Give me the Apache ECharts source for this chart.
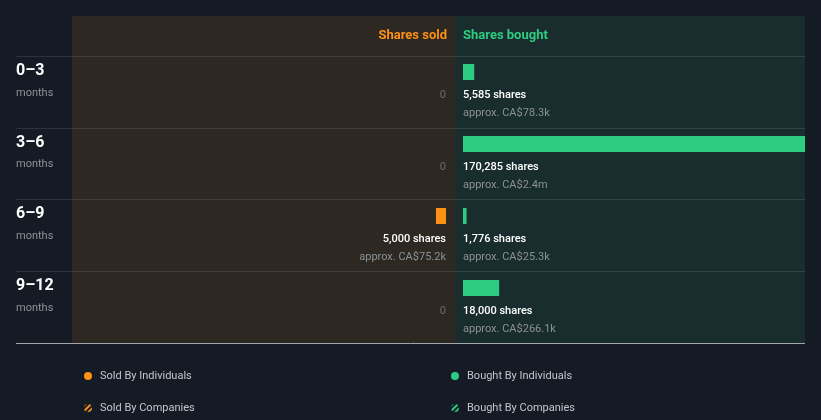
<!DOCTYPE html>
<html>
<head>
<meta charset="utf-8">
<script src="https://cdn.jsdelivr.net/npm/echarts@6/dist/echarts.min.js"></script>
<style>
  html, body { margin: 0; padding: 0; background: #151b25; }
  #chart { width: 821px; height: 420px; }
</style>
</head>
<body>
<div id="chart"></div>
<script>
// insider trading by period
const periods = ['0–3', '3–6', '6–9', '9–12'];
const soldIndividuals = [0, 0, 5000, 0];
const soldCompanies = [0, 0, 0, 0];
const soldValue = [0, 0, 75200, 0];            // CA$
const boughtIndividuals = [5585, 170285, 1776, 18000];
const boughtCompanies = [0, 0, 0, 0];
const boughtValue = [78300, 2400000, 25300, 266100]; // CA$

const ORANGE = '#fd9116';
const GREEN = '#2ecc80';
const BG = '#151b25';

const chart = echarts.init(document.getElementById('chart'));

function fmtMoney(v) {
  if (v >= 1e6) return 'CA$' + (v / 1e6).toFixed(1) + 'm';
  return 'CA$' + (v / 1e3).toFixed(1) + 'k';
}

function labelText(shares, values) {
  return function (p) {
    const n = shares[p.dataIndex];
    if (!n) return '{z|0}';
    return '{s|' + n.toLocaleString('en-US') + ' shares}\n{v|approx. ' + fmtMoney(values[p.dataIndex]) + '}';
  };
}

const rich = {
  s: { color: '#ffffff', fontSize: 11, fontWeight: 500, lineHeight: 18, fontFamily: 'Roboto' },
  v: { color: '#8a9196', fontSize: 11, lineHeight: 18, fontFamily: 'Roboto' },
  z: { color: '#6b6b6b', fontSize: 11, lineHeight: 18, fontFamily: 'Roboto' }
};

// both sides share one scale: bought side is 342px wide, sold side 374px
const maxShares = Math.max(...boughtIndividuals, ...soldIndividuals);

const hiddenCat = (grid) => ({
  type: 'category', gridIndex: grid, data: periods, inverse: true, show: false
});

// row separators, last one is the brighter bottom rule
const rowLine = 'rgba(255,255,255,0.1)';
const rowLineColors = periods.map(() => rowLine).concat('#a3a7ab');

const option = {
  backgroundColor: BG,
  textStyle: { fontFamily: 'Roboto' },
  animation: false,
  title: [
    {
      text: 'Shares sold', right: 374, top: 28, padding: 0,
      textStyle: { color: ORANGE, fontSize: 13, fontWeight: 'bold', lineHeight: 16 }
    },
    {
      text: 'Shares bought', left: 463, top: 28, padding: 0,
      textStyle: { color: GREEN, fontSize: 13, fontWeight: 'bold', lineHeight: 16 }
    }
  ],
  graphic: {
    elements: [
      { type: 'rect', z: -10, shape: { x: 72, y: 16, width: 383, height: 327 }, style: { fill: '#2d2822' } },
      { type: 'rect', z: -10, shape: { x: 455, y: 16, width: 350, height: 327 }, style: { fill: '#1a2d2e' } }
    ]
  },
  legend: [
    {
      data: ['Sold By Individuals', 'Sold By Companies'],
      orient: 'vertical', left: 84, top: 369, padding: 0,
      itemWidth: 8, itemHeight: 8, itemGap: 18, icon: 'circle',
      textStyle: { color: '#c2c6cc', fontSize: 11, lineHeight: 14, padding: [0, 0, 0, 3] }
    },
    {
      data: ['Bought By Individuals', 'Bought By Companies'],
      orient: 'vertical', left: 451, top: 369, padding: 0,
      itemWidth: 8, itemHeight: 8, itemGap: 18, icon: 'circle',
      textStyle: { color: '#c2c6cc', fontSize: 11, lineHeight: 14, padding: [0, 0, 0, 3] }
    }
  ],
  grid: [
    { left: 72, width: 374, top: 36, height: 288 },
    { left: 463, width: 342, top: 36, height: 288 },
    { left: 16, width: 789, top: 56, height: 287 }
  ],
  xAxis: [
    { type: 'value', gridIndex: 0, inverse: true, min: 0, max: maxShares * 374 / 342, show: false },
    { type: 'value', gridIndex: 1, min: 0, max: maxShares, show: false },
    { type: 'value', gridIndex: 2, min: 0, max: 1, show: false }
  ],
  yAxis: [
    hiddenCat(0),
    hiddenCat(1),
    {
      type: 'category', gridIndex: 2, data: periods, inverse: true,
      axisLine: { show: false }, axisTick: { show: false },
      splitLine: { show: true, lineStyle: { color: rowLineColors, width: 1 } },
      axisLabel: {
        interval: 0, align: 'left', margin: 0,
        padding: [0, 0, 20, 0],
        formatter: (v) => '{p|' + v + '}\n{m|months}',
        rich: {
          p: { color: '#ffffff', fontSize: 16, fontWeight: 'bold', lineHeight: 22 },
          m: { color: '#8d939a', fontSize: 11, lineHeight: 22 }
        }
      }
    }
  ],
  series: [
    {
      name: 'Sold By Individuals', type: 'bar', xAxisIndex: 0, yAxisIndex: 0,
      stack: 'sold', barWidth: 16, data: soldIndividuals,
      itemStyle: { color: ORANGE },
      label: {
        show: true, position: ['100%', 22], align: 'right', verticalAlign: 'top',
        formatter: labelText(soldIndividuals, soldValue), rich: rich
      }
    },
    {
      name: 'Sold By Companies', type: 'bar', xAxisIndex: 0, yAxisIndex: 0,
      stack: 'sold', barWidth: 16, data: soldCompanies,
      itemStyle: {
        color: BG,
        decal: { symbol: 'rect', color: ORANGE, dashArrayX: [1, 0], dashArrayY: [2, 2], rotation: -Math.PI / 4 }
      }
    },
    {
      name: 'Bought By Individuals', type: 'bar', xAxisIndex: 1, yAxisIndex: 1,
      stack: 'bought', barWidth: 16, data: boughtIndividuals,
      itemStyle: { color: GREEN },
      label: {
        show: true, position: [0, 22], align: 'left', verticalAlign: 'top',
        formatter: labelText(boughtIndividuals, boughtValue), rich: rich
      }
    },
    {
      name: 'Bought By Companies', type: 'bar', xAxisIndex: 1, yAxisIndex: 1,
      stack: 'bought', barWidth: 16, data: boughtCompanies,
      itemStyle: {
        color: BG,
        decal: { symbol: 'rect', color: GREEN, dashArrayX: [1, 0], dashArrayY: [2, 2], rotation: -Math.PI / 4 }
      }
    }
  ]
};

chart.setOption(option);
</script>
</body>
</html>
